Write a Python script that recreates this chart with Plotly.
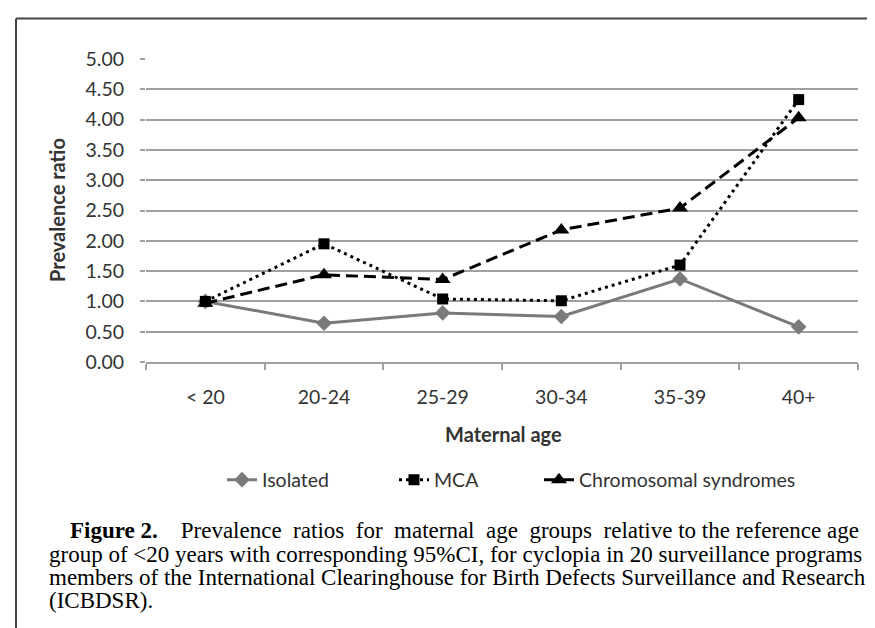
import plotly.graph_objects as go

# ---- data ----
categories = ["< 20", "20-24", "25-29", "30-34", "35-39", "40+"]
isolated = [1.00, 0.64, 0.81, 0.75, 1.37, 0.58]
mca = [1.00, 1.95, 1.04, 1.01, 1.60, 4.33]
chromosomal = [0.97, 1.44, 1.36, 2.18, 2.54, 4.03]
series_names = ["Isolated", "MCA", "Chromosomal syndromes"]
y_ticks = [0, 0.5, 1, 1.5, 2, 2.5, 3, 3.5, 4, 4.5, 5]
caption_lines = [
    "<b>Figure 2.</b>    Prevalence  ratios  for  maternal  age  groups  relative to the reference age",
    "group of &lt;20 years with corresponding 95%CI, for cyclopia in 20 surveillance programs",
    "members of the International Clearinghouse for Birth Defects Surveillance and Research",
    "(ICBDSR).",
]

W, H = 875, 628
L, R, T, B = 138, 25, 51, 274
PW, PH = W - L - R, H - T - B

def px_x(x):
    return (x - L) / PW

def px_y(y):
    return (H - B - y) / PH

SANS = "Lato, 'Open Sans', sans-serif"
SERIF = "'Liberation Serif', 'Times New Roman', serif"
TXT = "#333333"
FS = 19.5

fig = go.Figure()
fig.add_trace(go.Scatter(
    x=categories, y=isolated, name=series_names[0], mode="lines+markers",
    line=dict(color="#7a7a7a", width=3),
    marker=dict(symbol="diamond", size=12, color="#7a7a7a"),
    legendwidth=127,
))
fig.add_trace(go.Scatter(
    x=categories, y=mca, name=series_names[1], mode="lines+markers",
    line=dict(color="#000000", width=3, dash="3px,4px"),
    marker=dict(symbol="square", size=11, color="#000000"),
    legendwidth=100,
))
fig.add_trace(go.Scatter(
    x=categories, y=chromosomal, name=series_names[2], mode="lines+markers",
    line=dict(color="#000000", width=3, dash="12px,6px"),
    marker=dict(symbol="triangle-up", size=14, color="#000000"),
))

fig.update_layout(
    width=W, height=H,
    margin=dict(l=L, r=R, t=T, b=B, autoexpand=False),
    paper_bgcolor="white", plot_bgcolor="white",
    font=dict(family=SANS, size=FS, color=TXT),
    showlegend=True,
    legend=dict(
        orientation="h", x=px_x(214), xanchor="left",
        y=px_y(472), yanchor="middle",
        font=dict(family=SANS, size=FS, color=TXT),
        itemwidth=30, bgcolor="rgba(0,0,0,0)",
    ),
    xaxis=dict(
        type="category", showgrid=False, showline=True,
        linecolor="#a0a0a0", linewidth=1.5,
        ticks="outside", ticklen=6, tickcolor="#a0a0a0", tickwidth=1.5,
        tickson="boundaries", ticklabelstandoff=17,
        tickfont=dict(family=SANS, size=FS, color=TXT),
        range=[-0.5, 5.5], fixedrange=True,
    ),
    yaxis=dict(
        range=[0, 5], tickvals=y_ticks, tickformat=".2f",
        showgrid=True, gridcolor="#a0a0a0", gridwidth=1.5,
        zeroline=False, showline=False,
        ticks="outside", ticklen=5, tickcolor="#a0a0a0", tickwidth=1.5,
        ticklabelstandoff=12,
        tickfont=dict(family=SANS, size=FS, color=TXT),
    ),
)

annotations = [
    dict(text="<b>Prevalence ratio</b>", x=px_x(49), y=px_y(202), xref="paper", yref="paper",
         textangle=-90, showarrow=False, xanchor="center", yanchor="middle",
         font=dict(family=SANS, size=20, color=TXT)),
    dict(text="<b>Maternal age</b>", x=px_x(495), y=px_y(426), xref="paper", yref="paper",
         showarrow=False, xanchor="center", yanchor="middle",
         font=dict(family=SANS, size=20, color=TXT)),
]
caption_y = [522, 546, 569, 592]
caption_x = [60, 39, 39, 39]
caption_sizes = [23, 23, 23, 23]
for line, cy, cx, cs in zip(caption_lines, caption_y, caption_x, caption_sizes):
    annotations.append(dict(
        text=line, x=px_x(cx), y=px_y(cy), xref="paper", yref="paper",
        showarrow=False, xanchor="left", yanchor="middle",
        font=dict(family=SERIF, size=cs, color="#000000"),
    ))
fig.update_layout(annotations=annotations)

# frame (top and left edges)
fig.add_shape(type="line", xref="paper", yref="paper",
              x0=px_x(8), x1=px_x(W + 5), y0=px_y(10.5), y1=px_y(10.5),
              line=dict(color="#444444", width=2))
fig.add_shape(type="line", xref="paper", yref="paper",
              x0=px_x(8), x1=px_x(8), y0=px_y(10.5), y1=px_y(H + 5),
              line=dict(color="#444444", width=2))

fig.write_html("out.html")
